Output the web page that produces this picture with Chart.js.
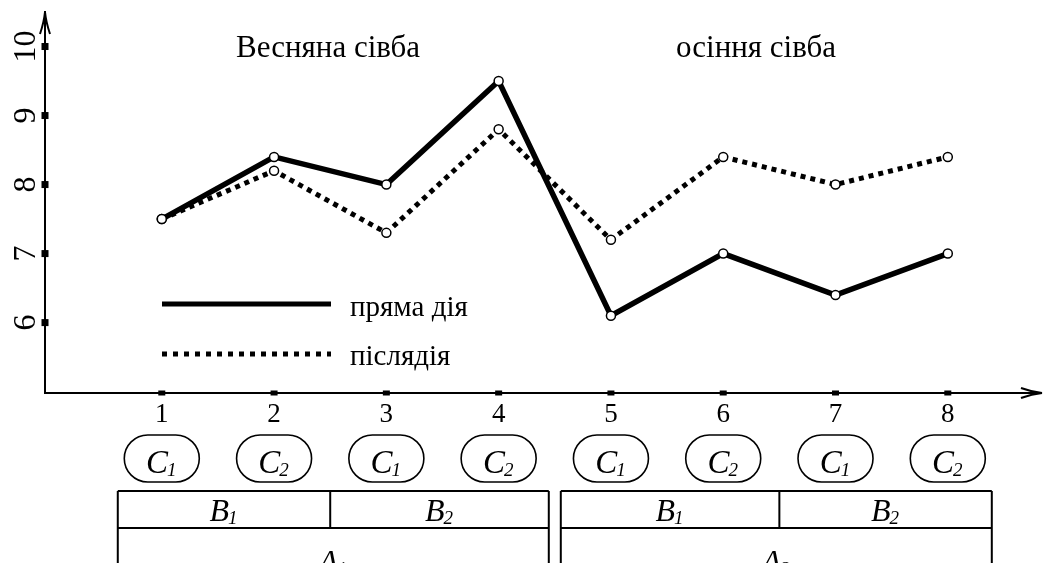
<!DOCTYPE html>
<html><head><meta charset="utf-8">
<script src="https://cdn.jsdelivr.net/npm/chart.js@4.4.0/dist/chart.umd.min.js"></script>
<style>html,body{margin:0;padding:0;background:#fff}#wrap{width:1047px;height:563px}</style>
</head><body><div id="wrap"><canvas id="c" width="1047" height="563"></canvas></div>
<script>
// ---- data ----
const categories = [1, 2, 3, 4, 5, 6, 7, 8];
const directEffect = [7.5, 8.4, 8.0, 9.5, 6.1, 7.0, 6.4, 7.0];   // пряма дія
const afterEffect  = [7.5, 8.2, 7.3, 8.8, 7.2, 8.4, 8.0, 8.4];   // післядія
const yTicks = [6, 7, 8, 9, 10];
const seriesNames = ['пряма дія', 'післядія'];
const seasonTitles = ['Весняна сівба', 'осіння сівба'];
const cLevels = ['1', '2', '1', '2', '1', '2', '1', '2'];        // factor C per category
const bLevels = ['1', '2', '1', '2'];                            // factor B, 2 categories each
const aLevels = ['1', '2'];                                      // factor A, 4 categories each

const FONT = "'Liberation Serif','Times New Roman',serif";

function subLabel(ctx, letter, sub, cx, baseline, bigSize, smallSize) {
  ctx.font = 'italic ' + bigSize + 'px ' + FONT;
  const w1 = ctx.measureText(letter).width;
  ctx.font = 'italic ' + smallSize + 'px ' + FONT;
  const w2 = ctx.measureText(sub).width;
  const x0 = cx - (w1 + w2) / 2;
  ctx.textAlign = 'left';
  ctx.textBaseline = 'alphabetic';
  ctx.font = 'italic ' + bigSize + 'px ' + FONT;
  ctx.fillText(letter, x0, baseline);
  ctx.font = 'italic ' + smallSize + 'px ' + FONT;
  ctx.fillText(sub, x0 + w1 - 1, baseline + 3);
}

const decor = {
  id: 'decor',
  afterDraw(chart) {
    const ctx = chart.ctx;
    const xs = chart.scales.x, ys = chart.scales.y;
    const area = chart.chartArea;
    const ax = area.left, ay = area.bottom;
    ctx.save();
    ctx.fillStyle = '#000';
    ctx.strokeStyle = '#000';

    // arrowheads
    ctx.lineWidth = 2;
    ctx.beginPath();
    ctx.moveTo(ax - 5, area.top + 22);
    ctx.quadraticCurveTo(ax - 1, area.top + 10, ax, area.top);
    ctx.quadraticCurveTo(ax + 1, area.top + 10, ax + 5, area.top + 22);
    ctx.stroke();
    ctx.beginPath();
    ctx.moveTo(area.right - 20, ay - 5);
    ctx.quadraticCurveTo(area.right - 9, ay - 1, area.right + 1, ay);
    ctx.quadraticCurveTo(area.right - 9, ay + 1, area.right - 20, ay + 5);
    ctx.stroke();

    // tick squares
    yTicks.forEach(v => {
      const py = ys.getPixelForValue(v);
      ctx.fillRect(ax - 3.5, py - 3.5, 7, 7);
    });
    categories.forEach(v => {
      const px = xs.getPixelForValue(v);
      ctx.fillRect(px - 3.5, ay - 2.5, 7, 5);
    });

    // season titles
    ctx.font = '31px ' + FONT;
    ctx.textAlign = 'center';
    ctx.textBaseline = 'alphabetic';
    ctx.fillText(seasonTitles[0], 328, 57);
    ctx.fillText(seasonTitles[1], 756, 57);

    // legend
    const ds = chart.data.datasets;
    ctx.lineWidth = 5;
    ctx.lineCap = 'butt';
    ctx.beginPath();
    ctx.moveTo(162, 304); ctx.lineTo(331, 304);
    ctx.stroke();
    ctx.setLineDash([5, 6]);
    ctx.beginPath();
    ctx.moveTo(162, 354); ctx.lineTo(331, 354);
    ctx.stroke();
    ctx.setLineDash([]);
    ctx.font = '29px ' + FONT;
    ctx.textAlign = 'left';
    ctx.fillText(ds[0].label, 350, 316);
    ctx.fillText(ds[1].label, 350, 365);

    // C bubbles
    ctx.lineWidth = 1.6;
    categories.forEach((v, i) => {
      const px = xs.getPixelForValue(v);
      ctx.beginPath();
      ctx.roundRect(px - 37.5, 435, 75, 47, 23.5);
      ctx.stroke();
      subLabel(ctx, 'C', cLevels[i], px, 473, 33, 19);
    });

    // B / A table
    ctx.lineWidth = 2;
    const per = categories.length / aLevels.length;
    const bPer = categories.length / bLevels.length;
    aLevels.forEach((a, g) => {
      const first = categories[g * per], last = categories[g * per + per - 1];
      const left = g === 0 ? xs.getPixelForValue(first) - 44
        : (xs.getPixelForValue(categories[g * per - 1]) + xs.getPixelForValue(first)) / 2 + 6;
      const right = g === aLevels.length - 1 ? xs.getPixelForValue(last) + 44
        : (xs.getPixelForValue(last) + xs.getPixelForValue(categories[g * per + per])) / 2 - 6;
      ctx.beginPath();
      ctx.moveTo(left, 491); ctx.lineTo(right, 491);
      ctx.moveTo(left, 528); ctx.lineTo(right, 528);
      ctx.moveTo(left, 491); ctx.lineTo(left, 570);
      ctx.moveTo(right, 491); ctx.lineTo(right, 570);
      ctx.stroke();
      // B cells
      const nb = per / bPer;
      let prev = left;
      for (let k = 0; k < nb; k++) {
        const bi = g * nb + k;
        const lastIdx = bi * bPer + bPer - 1;
        const edge = k === nb - 1 ? right
          : (xs.getPixelForValue(categories[lastIdx]) + xs.getPixelForValue(categories[lastIdx + 1])) / 2;
        if (k < nb - 1) {
          ctx.beginPath();
          ctx.moveTo(edge, 491); ctx.lineTo(edge, 528);
          ctx.stroke();
        }
        subLabel(ctx, 'B', bLevels[bi], (prev + edge) / 2, 521, 32, 19);
        prev = edge;
      }
      subLabel(ctx, 'A', a, (left + right) / 2, 572, 32, 19);
    });
    ctx.restore();
  }
};

const pointStyle = {
  pointRadius: 4.5, pointBorderWidth: 1.5,
  pointBackgroundColor: '#fff', pointBorderColor: '#000',
  tension: 0, borderColor: '#000', borderJoinStyle: 'miter'
};

function zeroPad(s) { s.paddingTop = 0; s.paddingBottom = 0; s.paddingLeft = 0; s.paddingRight = 0; }

new Chart(document.getElementById('c'), {
  type: 'line',
  data: {
    datasets: [
      Object.assign({ label: seriesNames[0], data: categories.map((c, i) => ({ x: c, y: directEffect[i] })),
        borderWidth: 5.5 }, pointStyle),
      Object.assign({ label: seriesNames[1], data: categories.map((c, i) => ({ x: c, y: afterEffect[i] })),
        borderWidth: 5, borderDash: [5, 5], borderCapStyle: 'butt' }, pointStyle)
    ]
  },
  options: {
    responsive: false, animation: false, devicePixelRatio: 1,
    layout: { padding: { top: 12, right: 4, left: 0, bottom: 0 } },
    plugins: { legend: { display: false }, tooltip: { enabled: false } },
    scales: {
      x: {
        type: 'linear', min: -0.04, max: 8.83,
        grid: { display: false, drawTicks: false },
        border: { display: true, color: '#000', width: 2 },
        afterBuildTicks: s => { s.ticks = categories.map(v => ({ value: v })); },
        afterFit: s => { s.height = 170; zeroPad(s); },
        ticks: { color: '#000', font: { family: FONT, size: 27 }, padding: 6, maxRotation: 0, autoSkip: false,
          callback: (v, i) => String(categories[i]) }
      },
      y: {
        min: 4.98, max: 10.5,
        grid: { display: false, drawTicks: false },
        border: { display: true, color: '#000', width: 2 },
        afterBuildTicks: s => { s.ticks = yTicks.map(v => ({ value: v })); },
        afterFit: s => { s.width = 45; zeroPad(s); },
        ticks: { color: '#000', font: { family: FONT, size: 32 }, padding: 2, minRotation: 90, maxRotation: 90,
          crossAlign: 'center', autoSkip: false, callback: (v) => String(v) }
      }
    }
  },
  plugins: [decor]
});
</script>
</body></html>
